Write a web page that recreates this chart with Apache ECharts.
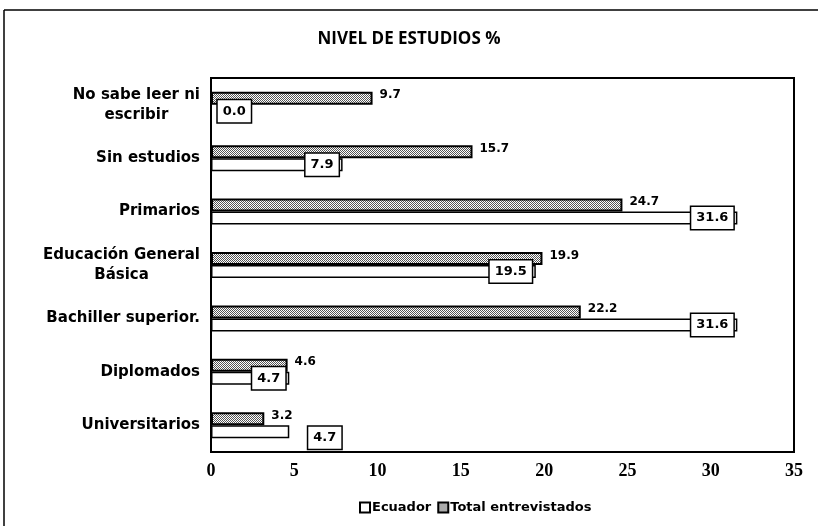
<!DOCTYPE html>
<html><head><meta charset="utf-8">
<script src="https://cdn.jsdelivr.net/npm/echarts@6/dist/echarts.min.js"></script>
<style>html,body{margin:0;padding:0;background:#fff}#c{width:818px;height:526px}</style>
</head><body><div id="c"></div>
<script>
const categories = ['No sabe leer ni\nescribir','Sin estudios','Primarios','Educación General\nBásica','Bachiller superior.','Diplomados','Universitarios'];
const totalValues = [9.7, 15.7, 24.7, 19.9, 22.2, 4.6, 3.2];
const ecuadorValues = [0.0, 7.9, 31.6, 19.5, 31.6, 4.7, 4.7];
const xTicks = [0, 35, 5];

const pc = document.createElement('canvas');
pc.width = 4; pc.height = 4;
const g = pc.getContext('2d');
g.fillStyle = '#fff'; g.fillRect(0,0,4,4);
g.fillStyle = '#555';
for (let y=0;y<4;y++) for (let x=0;x<4;x++) if ((x+y)%2===0) g.fillRect(x,y,1,1);
const hatch = {image: pc, repeat: 'repeat'};

const boxLabel = {
  show: true, formatter: p => Number(p.value).toFixed(1),
  fontFamily: 'DejaVu Sans', fontWeight: 'bold', fontSize: 13, color: '#000',
  backgroundColor: '#fff', borderColor: '#000', borderWidth: 1.5, padding: [5,5,4,5]
};
const ecuadorData = ecuadorValues.map((v, i) => {
  let label = {position: 'insideRight', distance: 4};
  if (v === 0) label = {position: 'right', distance: 6};
  if (i === categories.length - 1) label = {position: 'right', distance: 19, offset: [0, 6]};
  return {value: v, label: label};
});

const chart = echarts.init(document.getElementById('c'));
chart.setOption({
  animation: false,
  title: {text: 'NIVEL DE ESTUDIOS %', left: 'center', top: 26,
    textStyle: {fontFamily: 'Open Sans', fontWeight: 'bold', fontSize: 17, color: '#000'}},
  graphic: [
    {type: 'line', shape: {x1: 4, y1: 10, x2: 818, y2: 10}, style: {stroke: '#000', lineWidth: 1.5}},
    {type: 'line', shape: {x1: 4, y1: 10, x2: 4, y2: 526}, style: {stroke: '#000', lineWidth: 1.5}}
  ],
  legend: {bottom: 7, left: 354, data: ['Ecuador', 'Total entrevistados'],
    icon: 'rect', itemWidth: 10, itemHeight: 10, itemGap: 6,
    textStyle: {fontFamily: 'DejaVu Sans', fontWeight: 'bold', fontSize: 13, color: '#000', padding: [0,0,0,-3]}},
  grid: {left: 211, right: 24, top: 78, bottom: 74, show: true, borderColor: '#000', borderWidth: 2},
  xAxis: {type: 'value', min: xTicks[0], max: xTicks[1], interval: xTicks[2],
    axisLine: {show: true, lineStyle: {color: '#000', width: 2}}, axisTick: {show: false},
    splitLine: {show: false},
    axisLabel: {margin: 10, fontFamily: 'Liberation Serif', fontWeight: 'bold', fontSize: 18, color: '#000'}},
  yAxis: {type: 'category', data: categories, inverse: true,
    axisLine: {show: true, lineStyle: {color: '#000', width: 2}}, axisTick: {show: false},
    axisLabel: {margin: 11, color: '#000', fontFamily: 'DejaVu Sans', fontWeight: 'bold', fontSize: 15, lineHeight: 20,
      formatter: v => v.split('\n').map(s => '{c|' + s + '}').join('\n'),
      rich: {c: {align: 'center', fontFamily: 'DejaVu Sans', fontWeight: 'bold', fontSize: 15, color: '#000', lineHeight: 20}}}},
  series: [
    {name: 'Total entrevistados', type: 'bar', data: totalValues, barWidth: 13, barGap: '0%',
      itemStyle: {color: hatch, borderColor: '#000', borderWidth: 2},
      label: {show: true, position: 'right', distance: 7, formatter: p => p.value.toFixed(1),
        fontFamily: 'DejaVu Sans', fontWeight: 'bold', fontSize: 12, color: '#000', offset: [0, -3]}},
    {name: 'Ecuador', type: 'bar', data: ecuadorData, barWidth: 13, barGap: '0%',
      itemStyle: {color: '#fff', borderColor: '#000', borderWidth: 1.5},
      label: boxLabel}
  ]
});
</script></body></html>
